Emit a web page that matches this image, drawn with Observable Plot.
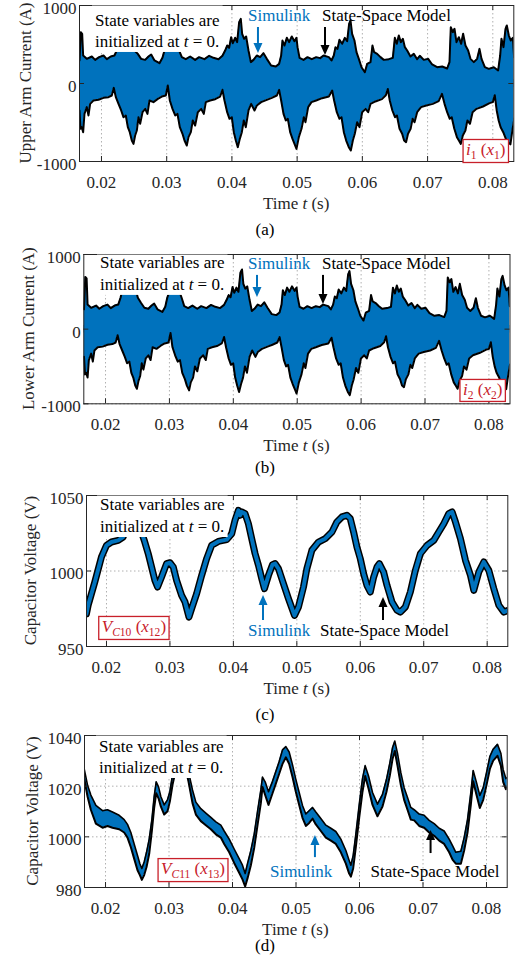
<!DOCTYPE html>
<html><head><meta charset="utf-8">
<script src="https://cdn.jsdelivr.net/npm/d3@7"></script>
<script src="https://cdn.jsdelivr.net/npm/@observablehq/plot@0.6"></script>
<style>
body{margin:0;background:#fff;}
#fig{position:relative;width:522px;height:965px;overflow:hidden;font-family:"Liberation Serif","Times New Roman",serif;}
.cap{position:absolute;transform:translateX(-50%);font-size:17px;line-height:20px;color:#000;white-space:nowrap;}
</style></head><body><div id="fig"></div>
<script>
// ---------- data ----------
const xTicks = [0.02, 0.03, 0.04, 0.05, 0.06, 0.07, 0.08];
const currentTicks = [-1000, 0, 1000];
const vc10Ticks = [950, 1000, 1050];
const vc11Ticks = [980, 1000, 1020, 1040];

// (a) upper arm current: upper / lower envelope [t (s), A]
const aUpper = [[0.01663,295],[0.01683,658],[0.01704,637],[0.01719,359],[0.01775,316],[0.01852,346],[0.01903,303],[0.01964,338],[0.02031,359],[0.02082,312],[0.02143,346],[0.02199,359],[0.02235,423],[0.02271,551],[0.02363,594],[0.02465,551],[0.02506,423],[0.02557,380],[0.02608,316],[0.0267,303],[0.02721,346],[0.02762,372],[0.02813,295],[0.02889,261],[0.02935,329],[0.02966,423],[0.03027,573],[0.03129,573],[0.03191,423],[0.03232,338],[0.03293,312],[0.0336,346],[0.03436,303],[0.03497,338],[0.03579,312],[0.03651,355],[0.03717,329],[0.03794,312],[0.03855,355],[0.03896,423],[0.03927,487],[0.03957,457],[0.03988,594],[0.04014,517],[0.04049,586],[0.0408,530],[0.04111,786],[0.04136,829],[0.04157,637],[0.04187,573],[0.04218,603],[0.04254,423],[0.0429,274],[0.04331,303],[0.04382,359],[0.04433,338],[0.04484,389],[0.04535,316],[0.04601,231],[0.04673,218],[0.04724,252],[0.04755,359],[0.04775,551],[0.04806,487],[0.04842,586],[0.04877,530],[0.04918,603],[0.04959,543],[0.0499,586],[0.05006,466],[0.05037,329],[0.05098,303],[0.05159,338],[0.05225,312],[0.05292,338],[0.05353,325],[0.05405,359],[0.05486,338],[0.05527,295],[0.05562,359],[0.05588,466],[0.05619,444],[0.05649,560],[0.0569,509],[0.05731,586],[0.05767,543],[0.05797,765],[0.05818,808],[0.05843,637],[0.05879,551],[0.0591,402],[0.05946,316],[0.05987,209],[0.06038,145],[0.06074,252],[0.06125,274],[0.06155,487],[0.06181,402],[0.06227,380],[0.06278,338],[0.06329,303],[0.06406,312],[0.06467,329],[0.06498,586],[0.06528,509],[0.06559,615],[0.0659,530],[0.06621,573],[0.06652,466],[0.06687,423],[0.06738,346],[0.06789,380],[0.0684,312],[0.06881,355],[0.06942,303],[0.07009,316],[0.0707,244],[0.07147,209],[0.07224,218],[0.073,192],[0.07336,274],[0.07356,722],[0.07387,658],[0.07413,701],[0.07443,530],[0.07479,594],[0.07515,509],[0.07545,637],[0.07581,487],[0.07622,423],[0.07658,316],[0.07709,274],[0.0776,316],[0.07796,444],[0.07827,316],[0.07878,209],[0.07939,188],[0.08016,209],[0.08082,167],[0.08113,359],[0.08133,573],[0.08164,466],[0.08195,701],[0.08215,744],[0.08246,615],[0.08276,551],[0.08307,586],[0.08327,338]];
const aLower = [[0.01663,-346],[0.01678,-581],[0.01698,-560],[0.01719,-624],[0.01739,-389],[0.01775,-303],[0.01801,-410],[0.01826,-261],[0.01877,-218],[0.01954,-209],[0.02031,-184],[0.02107,-175],[0.02158,-154],[0.02189,-56],[0.0222,-175],[0.02261,-261],[0.02302,-346],[0.02337,-432],[0.02373,-410],[0.02404,-560],[0.02434,-624],[0.02465,-731],[0.02491,-774],[0.02516,-667],[0.02542,-603],[0.02567,-432],[0.02593,-517],[0.02629,-368],[0.0267,-325],[0.02705,-389],[0.02736,-218],[0.02797,-239],[0.02864,-197],[0.02925,-167],[0.02986,-154],[0.03017,-26],[0.03048,-218],[0.03089,-325],[0.0313,-410],[0.03165,-389],[0.03201,-560],[0.03242,-645],[0.03273,-731],[0.03308,-795],[0.03334,-688],[0.0337,-624],[0.034,-474],[0.03436,-539],[0.03477,-368],[0.03528,-325],[0.03569,-389],[0.036,-239],[0.03666,-218],[0.03743,-201],[0.03819,-167],[0.03855,-81],[0.03886,-218],[0.03927,-368],[0.03963,-453],[0.03998,-432],[0.04029,-624],[0.0406,-731],[0.0409,-816],[0.04121,-710],[0.04152,-624],[0.04182,-474],[0.04213,-560],[0.04254,-346],[0.04295,-261],[0.04346,-346],[0.04382,-282],[0.04448,-239],[0.04535,-209],[0.04612,-184],[0.04688,-154],[0.04724,-81],[0.04755,-218],[0.04791,-389],[0.04826,-474],[0.04857,-453],[0.04893,-624],[0.04929,-710],[0.0497,-795],[0.0499,-838],[0.05026,-688],[0.05067,-581],[0.05102,-432],[0.05128,-496],[0.05169,-303],[0.0522,-239],[0.05291,-218],[0.05383,-188],[0.05486,-167],[0.05537,-90],[0.05567,-218],[0.05608,-368],[0.05649,-453],[0.0568,-432],[0.05716,-624],[0.05752,-731],[0.05792,-816],[0.05823,-859],[0.05854,-731],[0.05884,-645],[0.0592,-496],[0.05956,-560],[0.05997,-368],[0.06048,-325],[0.06089,-368],[0.06125,-261],[0.062,-230],[0.063,-200],[0.0636,-150],[0.0639,-70],[0.0642,-218],[0.0646,-346],[0.065,-432],[0.0653,-410],[0.0657,-581],[0.0661,-645],[0.0664,-731],[0.0667,-752],[0.067,-645],[0.0674,-581],[0.0677,-453],[0.068,-496],[0.0684,-368],[0.069,-303],[0.0698,-282],[0.0708,-261],[0.0717,-226],[0.0722,-132],[0.0726,-261],[0.073,-368],[0.0734,-453],[0.0737,-432],[0.0741,-581],[0.0745,-688],[0.0748,-731],[0.0751,-774],[0.0754,-667],[0.0758,-603],[0.0761,-474],[0.0765,-517],[0.0769,-368],[0.0775,-325],[0.0785,-295],[0.0795,-252],[0.08,-239],[0.0803,-150],[0.0806,-346],[0.0809,-474],[0.0812,-560],[0.0816,-624],[0.082,-710],[0.0824,-760],[0.0827,-780],[0.083,-600],[0.0833,-450]];

// (b) lower arm current: upper / lower envelope [t (s), A]
const bUpper = [[0.01663,265],[0.01683,700],[0.01704,680],[0.01719,329],[0.01775,286],[0.01852,316],[0.01903,273],[0.01964,308],[0.02031,329],[0.02082,282],[0.02143,316],[0.02199,329],[0.02235,420],[0.02271,551],[0.02363,594],[0.02465,551],[0.02506,420],[0.02557,350],[0.02608,286],[0.0267,273],[0.02721,316],[0.02762,342],[0.02813,265],[0.02889,231],[0.02935,299],[0.02966,420],[0.03027,573],[0.03129,573],[0.03191,420],[0.03232,308],[0.03293,282],[0.0336,316],[0.03436,273],[0.03497,308],[0.03579,282],[0.03651,325],[0.03717,299],[0.03794,282],[0.03855,325],[0.03896,393],[0.03927,457],[0.03957,427],[0.03988,564],[0.04014,487],[0.04049,556],[0.0408,500],[0.04111,756],[0.04136,800],[0.04157,607],[0.04187,543],[0.04218,573],[0.04254,393],[0.0429,244],[0.04331,273],[0.04382,329],[0.04433,308],[0.04484,359],[0.04535,286],[0.04601,201],[0.04673,188],[0.04724,222],[0.04755,329],[0.04775,521],[0.04806,457],[0.04842,556],[0.04877,500],[0.04918,573],[0.04959,513],[0.0499,556],[0.05006,436],[0.05037,299],[0.05098,273],[0.05159,308],[0.05225,282],[0.05292,308],[0.05353,295],[0.05405,329],[0.05486,308],[0.05527,265],[0.05562,329],[0.05588,436],[0.05619,414],[0.05649,530],[0.0569,479],[0.05731,556],[0.05767,513],[0.05797,735],[0.05818,778],[0.05843,607],[0.05879,521],[0.0591,372],[0.05946,286],[0.05987,179],[0.06038,115],[0.06074,222],[0.06125,244],[0.06155,457],[0.06181,372],[0.06227,350],[0.06278,308],[0.06329,273],[0.06406,282],[0.06467,299],[0.06498,556],[0.06528,479],[0.06559,585],[0.0659,500],[0.06621,543],[0.06652,436],[0.06687,393],[0.06738,316],[0.06789,350],[0.0684,282],[0.06881,325],[0.06942,273],[0.07009,286],[0.0707,214],[0.07147,179],[0.07224,188],[0.073,162],[0.07336,244],[0.07356,692],[0.07387,628],[0.07413,671],[0.07443,500],[0.07479,564],[0.07515,479],[0.07545,607],[0.07581,457],[0.07622,393],[0.07658,286],[0.07709,244],[0.0776,286],[0.07796,414],[0.07827,286],[0.07878,179],[0.07939,158],[0.08016,179],[0.08082,137],[0.08113,329],[0.08133,543],[0.08164,436],[0.08195,671],[0.08215,714],[0.08246,585],[0.08276,521],[0.08307,556],[0.08327,308]];
const bLower = [[0.01663,-371],[0.01678,-606],[0.01698,-585],[0.01719,-649],[0.01739,-414],[0.01775,-328],[0.01801,-435],[0.01826,-286],[0.01877,-243],[0.01954,-234],[0.02031,-209],[0.02107,-200],[0.02158,-179],[0.02189,-81],[0.0222,-200],[0.02261,-286],[0.02302,-371],[0.02337,-457],[0.02373,-435],[0.02404,-585],[0.02434,-649],[0.02465,-756],[0.02491,-799],[0.02516,-692],[0.02542,-628],[0.02567,-457],[0.02593,-542],[0.02629,-393],[0.0267,-350],[0.02705,-414],[0.02736,-243],[0.02797,-264],[0.02864,-222],[0.02925,-192],[0.02986,-179],[0.03017,-51],[0.03048,-243],[0.03089,-350],[0.0313,-435],[0.03165,-414],[0.03201,-585],[0.03242,-670],[0.03273,-756],[0.03308,-820],[0.03334,-713],[0.0337,-649],[0.034,-499],[0.03436,-564],[0.03477,-393],[0.03528,-350],[0.03569,-414],[0.036,-264],[0.03666,-243],[0.03743,-226],[0.03819,-192],[0.03855,-106],[0.03886,-243],[0.03927,-393],[0.03963,-478],[0.03998,-457],[0.04029,-649],[0.0406,-756],[0.0409,-841],[0.04121,-735],[0.04152,-649],[0.04182,-499],[0.04213,-585],[0.04254,-371],[0.04295,-286],[0.04346,-371],[0.04382,-307],[0.04448,-264],[0.04535,-234],[0.04612,-209],[0.04688,-179],[0.04724,-106],[0.04755,-243],[0.04791,-414],[0.04826,-499],[0.04857,-478],[0.04893,-649],[0.04929,-735],[0.0497,-820],[0.0499,-863],[0.05026,-713],[0.05067,-606],[0.05102,-457],[0.05128,-521],[0.05169,-328],[0.0522,-264],[0.05291,-243],[0.05383,-213],[0.05486,-192],[0.05537,-115],[0.05567,-243],[0.05608,-393],[0.05649,-478],[0.0568,-457],[0.05716,-649],[0.05752,-756],[0.05792,-841],[0.05823,-884],[0.05854,-756],[0.05884,-670],[0.0592,-521],[0.05956,-585],[0.05997,-393],[0.06048,-350],[0.06089,-393],[0.06125,-286],[0.062,-255],[0.063,-225],[0.0636,-175],[0.0639,-95],[0.0642,-243],[0.0646,-371],[0.065,-457],[0.0653,-435],[0.0657,-606],[0.0661,-670],[0.0664,-756],[0.0667,-777],[0.067,-670],[0.0674,-606],[0.0677,-478],[0.068,-521],[0.0684,-393],[0.069,-328],[0.0698,-307],[0.0708,-286],[0.0717,-251],[0.0722,-157],[0.0726,-286],[0.073,-393],[0.0734,-478],[0.0737,-457],[0.0741,-606],[0.0745,-713],[0.0748,-756],[0.0751,-799],[0.0754,-692],[0.0758,-628],[0.0761,-499],[0.0765,-542],[0.0769,-393],[0.0775,-350],[0.0785,-320],[0.0795,-277],[0.08,-264],[0.0803,-175],[0.0806,-371],[0.0809,-499],[0.0812,-585],[0.0816,-649],[0.082,-735],[0.0824,-785],[0.0827,-805],[0.083,-625],[0.0833,-475]];

// (c) capacitor voltage VC10 [t (s), V]
const cVolt = [[0.01684,971.7],[0.01711,977.3],[0.01816,992.7],[0.01921,1009.3],[0.02,1017.0],[0.02079,1019.2],[0.02184,1020.3],[0.02263,1022.5],[0.02316,1030],[0.02395,1034],[0.02474,1032],[0.02542,1027],[0.02595,1020.3],[0.02658,1011.5],[0.02711,1002.6],[0.02763,993.8],[0.02805,989.4],[0.02868,996.0],[0.02947,1004.9],[0.03,1005.5],[0.03053,1002.6],[0.03105,993.8],[0.03184,983.9],[0.03237,979.5],[0.033,969.5],[0.03342,975.1],[0.03421,985.0],[0.035,997.1],[0.03579,1008.2],[0.03658,1017.0],[0.03763,1019.6],[0.03895,1020.8],[0.03974,1024.7],[0.04026,1033.6],[0.04079,1040.2],[0.04105,1036.9],[0.04132,1039.1],[0.04184,1038.0],[0.04237,1031.3],[0.04289,1021.4],[0.04342,1011.5],[0.04395,1003.8],[0.04447,994.9],[0.04489,988.3],[0.04553,997.1],[0.04616,1004.2],[0.04658,1004.9],[0.04711,1001.5],[0.04789,991.6],[0.04868,981.7],[0.04963,970.6],[0.05026,976.2],[0.05105,989.4],[0.05158,1001.5],[0.05237,1013.7],[0.05342,1019.2],[0.05447,1021.4],[0.05553,1025.8],[0.05632,1032.5],[0.05711,1035.8],[0.05789,1036.9],[0.05842,1034.7],[0.05895,1025.8],[0.05947,1015.9],[0.06,1008.2],[0.06053,998.2],[0.06105,990.5],[0.06158,986.1],[0.06211,996.0],[0.06263,1002.6],[0.063,1004.9],[0.06368,999.3],[0.06421,990.5],[0.065,979.5],[0.06579,974.0],[0.06632,972.8],[0.06711,976.2],[0.06789,986.1],[0.06868,1000.4],[0.06947,1011.5],[0.07053,1017.0],[0.07158,1020.3],[0.07237,1025.8],[0.07316,1031.3],[0.07395,1038.0],[0.07447,1039.1],[0.075,1032.5],[0.07579,1021.4],[0.07658,1007.1],[0.07737,997.1],[0.07789,987.2],[0.07868,999.3],[0.07947,1006.0],[0.08026,1000.4],[0.08105,988.3],[0.08184,977.3],[0.08263,972.8],[0.08332,974.0]];

// (d) capacitor voltage VC11 band [t (s), lower V, upper V]
const dBand = [[0.01664,1023.0,1026.8],[0.01717,1015.9,1020.4],[0.01769,1010.7,1016.5],[0.01848,1005.2,1012.4],[0.01953,1003.6,1010.3],[0.02031,1004.3,1010.7],[0.0211,1003.6,1009.8],[0.02215,1003.0,1008.5],[0.02294,1001.7,1006.8],[0.02346,999.7,1004.9],[0.02399,995.9,1001.7],[0.02451,991.4,997.2],[0.02504,986.8,992.6],[0.02541,984.9,989.4],[0.02572,983.0,987.5],[0.02609,984.9,990.1],[0.02646,988.1,993.9],[0.02688,993.3,999.1],[0.0273,1002.3,1006.8],[0.02766,1011.4,1015.9],[0.02798,1017.2,1021.7],[0.02835,1015.2,1019.7],[0.02871,1012.0,1015.9],[0.02924,1008.8,1012.6],[0.02976,1010.1,1014.6],[0.03013,1013.9,1017.8],[0.03055,1020.5,1024.5],[0.03134,1029.5,1033.5],[0.03239,1029.5,1033.5],[0.03307,1021.8,1025.6],[0.0337,1013.3,1018.5],[0.03423,1008.8,1013.7],[0.03501,1006.2,1011.1],[0.0358,1004.6,1009.4],[0.03659,1003.0,1007.7],[0.03738,1001.0,1005.9],[0.03816,999.7,1004.6],[0.03869,997.2,1002.3],[0.03948,993.9,999.1],[0.04026,989.7,995.2],[0.04105,985.8,991.4],[0.04157,983.2,988.8],[0.04199,980.4,985.5],[0.04236,983.6,989.4],[0.04289,988.8,994.6],[0.04341,995.6,1001.0],[0.04394,1004.6,1010.1],[0.04446,1013.3,1018.5],[0.04472,1019.7,1023.6],[0.04514,1016.5,1021.7],[0.04567,1012.6,1017.8],[0.0463,1017.2,1021.9],[0.04682,1021.0,1025.8],[0.04735,1024.9,1029.7],[0.04787,1028.8,1034.3],[0.0484,1031.4,1035.6],[0.04892,1028.8,1033.5],[0.04945,1023.6,1028.4],[0.04997,1017.8,1022.7],[0.0505,1012.6,1017.5],[0.05102,1007.5,1012.4],[0.05155,1004.3,1009.0],[0.05207,1005.5,1010.3],[0.0526,1007.2,1011.6],[0.05312,1004.9,1009.8],[0.05391,1002.3,1007.2],[0.0547,999.7,1004.6],[0.05549,998.5,1003.4],[0.05627,997.2,1002.1],[0.05706,993.9,999.1],[0.05785,989.4,994.6],[0.05837,985.5,990.7],[0.05864,984.3,988.8],[0.059,987.5,992.6],[0.05942,995.9,1001.0],[0.05995,1007.5,1012.6],[0.06047,1017.8,1023.0],[0.06089,1024.0,1028.1],[0.06142,1019.1,1024.0],[0.06205,1012.6,1017.5],[0.06283,1008.1,1012.9],[0.06362,1012.0,1016.8],[0.06425,1017.8,1022.7],[0.06478,1024.3,1029.2],[0.0652,1030.7,1035.2],[0.06556,1033.9,1037.8],[0.06598,1028.1,1033.0],[0.06651,1020.4,1025.3],[0.06703,1014.6,1019.4],[0.06756,1010.7,1015.5],[0.06808,1006.8,1011.6],[0.06861,1006.5,1010.7],[0.0694,1004.3,1009.0],[0.07018,1003.6,1008.5],[0.07097,1001.7,1006.5],[0.07176,1000.4,1005.2],[0.07255,998.5,1003.4],[0.07333,997.2,1002.3],[0.07412,993.9,999.1],[0.07465,991.0,996.5],[0.07517,989.4,993.9],[0.07596,989.4,994.3],[0.07648,994.6,999.7],[0.07701,1001.7,1006.8],[0.07753,1012.6,1017.5],[0.0779,1021.9,1026.2],[0.07843,1016.5,1021.4],[0.07895,1011.4,1016.3],[0.07948,1014.6,1019.4],[0.08,1020.4,1025.3],[0.08053,1026.8,1031.7],[0.08105,1030.1,1034.6],[0.08173,1032.0,1036.5],[0.08226,1028.1,1033.0],[0.08262,1021.7,1026.6],[0.08305,1018.8,1023.0],[0.0833,1019.5,1023.5]];

// ---------- styling / layout ----------
const BLUE = "#0072BD", RED = "#C8202A", INK = "#262626", GRID = "#b0b0b0";
const FONT = "'Liberation Serif','Times New Roman',serif";
const FS = 17, MT = 20, MB = 62;

const panels = [
  {frame:[79,513.3,5,161], xdom:[0.01663,0.08322], ydom:[-1000,1000], yticks:currentTicks, ylabel:"Upper Arm Current (A)", ylabX:25, caption:"(a)", capY:230,
   kind:"current", up:aUpper, lo:aLower,
   state:[0.01908,731,462], sim:[0.04254,795], simArrow:[0.04407,718,385], ssm:[0.05389,795], ssmArrow:[0.05435,718,359],
   tag:[0.0790,-923], tagSegs:[["i","i"],["1","sub"],[" (",""],["x","i"],["1","sub"],[")",""]]},
  {frame:[83.3,509.5,254,403.3], xdom:[0.0166,0.0833], ydom:[-1000,1000], yticks:currentTicks, ylabel:"Lower Arm Current (A)", ylabX:28, caption:"(b)", capY:468,
   kind:"current", up:bUpper, lo:bLower,
   state:[0.01921,813,519], sim:[0.04237,800], simArrow:[0.04378,720,425], ssm:[0.05395,800], ssmArrow:[0.05411,720,331],
   tag:[0.0791,-888], tagSegs:[["i","i"],["2","sub"],[" (",""],["x","i"],["2","sub"],[")",""]]},
  {frame:[86,507.3,495,646], xdom:[0.01685,0.08325], ydom:[950,1050], yticks:vc10Ticks, ylabel:"Capacitor Voltage (V)", ylabX:30, caption:"(c)", capY:715,
   kind:"line", data:cVolt,
   state:[0.01906,1040.1,1025.5], sim:[0.04238,956.6], simArrow:[0.04475,967.2,983.8], ssm:[0.05374,956.6], ssmArrow:[0.06366,967.2,982.5],
   tag:[0.0244,959.3], tagSegs:[["V","i"],["C","isub"],["10","sub"],[" (",""],["x","i"],["12","sub"],[")",""]]},
  {frame:[84,506.7,735,887], xdom:[0.01669,0.08326], ydom:[980,1040], yticks:vc11Ticks, ylabel:"Capacitor Voltage (V)", ylabX:32, caption:"(d)", capY:946,
   kind:"band", data:dBand,
   state:[0.01905,1033.3,1025.0], sim:[0.04598,984.0], simArrow:[0.05306,991.8,1000.5], ssm:[0.06182,984.0], ssmArrow:[0.07127,993.4,1002.5],
   tag:[0.03386,985.1], tagSegs:[["V","i"],["C","isub"],["11","sub"],[" (",""],["x","i"],["13","sub"],[")",""]]}
];

function signalMarks(p) {
  if (p.kind === "current") {
    return [
      Plot.areaY(p.up, {x: d => d[0], y1: -50, y2: d => d[1], fill: BLUE, clip: true}),
      Plot.areaY(p.lo, {x: d => d[0], y1: 50, y2: d => d[1], fill: BLUE, clip: true}),
      Plot.line(p.up, {x: d => d[0], y: d => d[1], stroke: "#000", strokeWidth: 2, clip: true}),
      Plot.line(p.lo, {x: d => d[0], y: d => d[1], stroke: "#000", strokeWidth: 2, clip: true})
    ];
  }
  if (p.kind === "line") {
    return [
      Plot.line(p.data, {x: d => d[0], y: d => d[1], stroke: "#000", strokeWidth: 7, clip: true}),
      Plot.line(p.data, {x: d => d[0], y: d => d[1], stroke: BLUE, strokeWidth: 4, clip: true})
    ];
  }
  return [
    Plot.areaY(p.data, {x: d => d[0], y1: d => d[1], y2: d => d[2], fill: BLUE, clip: true}),
    Plot.line(p.data, {x: d => d[0], y: d => d[1], stroke: "#000", strokeWidth: 2, clip: true}),
    Plot.line(p.data, {x: d => d[0], y: d => d[2], stroke: "#000", strokeWidth: 1.6, clip: true})
  ];
}

function rich(sel, segs, size = FS) {
  let shift = 0;
  for (const [s, st] of segs) {
    const ts = sel.append("tspan").text(s);
    const want = st.includes("sub") ? 4 : 0;
    if (want !== shift) { ts.attr("dy", want - shift); shift = want; }
    if (st.startsWith("i")) ts.attr("font-style", "italic");
    if (st.includes("sub")) ts.attr("font-size", size * 0.68);
  }
}

function arrow(g, x, y0, y1, color) {
  const dir = Math.sign(y1 - y0), hl = 10, hw = 4.5;
  g.append("line").attr("x1", x).attr("x2", x).attr("y1", y0).attr("y2", y1 - dir * hl)
    .attr("stroke", color).attr("stroke-width", 2);
  g.append("path").attr("d", `M${x},${y1}L${x - hw},${y1 - dir * hl}L${x + hw},${y1 - dir * hl}Z`).attr("fill", color);
}

const fig = document.getElementById("fig");
for (const p of panels) {
  const [fl, fr, ft, fb] = p.frame;
  const fw = fr - fl, fh = fb - ft;
  const svgEl = Plot.plot({
    width: 522, height: fh + MT + MB,
    marginLeft: fl, marginRight: 522 - fr, marginTop: MT, marginBottom: MB,
    x: {domain: p.xdom}, y: {domain: p.ydom},
    style: {fontFamily: FONT, fontSize: FS + "px", color: INK, background: "transparent", overflow: "visible"},
    marks: [
      Plot.gridX(xTicks, {stroke: GRID, strokeOpacity: 1, strokeDasharray: "1.5,2.5"}),
      Plot.gridY(p.yticks, {stroke: GRID, strokeOpacity: 1, strokeDasharray: "1.5,2.5"}),
      ...signalMarks(p),
      Plot.gridX(xTicks, {stroke: INK, strokeOpacity: 1, insetTop: fh - 5}),
      Plot.gridX(xTicks, {stroke: INK, strokeOpacity: 1, insetBottom: fh - 5}),
      Plot.gridY(p.yticks, {stroke: INK, strokeOpacity: 1, insetRight: fw - 5}),
      Plot.gridY(p.yticks, {stroke: INK, strokeOpacity: 1, insetLeft: fw - 5}),
      Plot.axisX(xTicks, {tickSize: 0, tickPadding: 14, tickFormat: d => d.toFixed(2), label: null, fontFamily: FONT}),
      Plot.axisY(p.yticks, {tickSize: 0, tickPadding: 3, dy: 3, tickFormat: d => String(d), label: null, fontFamily: FONT}),
      Plot.frame({stroke: INK, strokeWidth: 1})
    ]
  });
  svgEl.style.position = "absolute";
  svgEl.style.left = "0px";
  svgEl.style.top = (ft - MT) + "px";
  fig.appendChild(svgEl);

  const sx = svgEl.scale("x"), sy = svgEl.scale("y");
  const X = v => sx.apply(v), Y = v => sy.apply(v);
  const svg = d3.select(svgEl);
  const g = svg.append("g").attr("font-family", FONT).attr("font-size", FS).attr("fill", "#000").attr("text-anchor", "start");
  const ftop = MT, fbot = MT + fh;

  // axis titles
  g.append("text").attr("transform", `translate(${p.ylabX + 5.8},${(ftop + fbot) / 2}) rotate(-90)`)
    .attr("text-anchor", "middle").attr("fill", INK).text(p.ylabel);
  rich(g.append("text").attr("x", (fl + fr) / 2).attr("y", fbot + 47.5).attr("text-anchor", "middle").attr("fill", INK),
    [["Time ", ""], ["t", "i"], [" (s)", ""]]);

  // initial-state note on white box
  const sg = g.append("g");
  const rect = sg.append("rect").attr("fill", "#fff");
  const t1 = sg.append("text").attr("x", X(p.state[0])).attr("y", Y(p.state[1])).text("State variables are");
  const t2 = sg.append("text").attr("x", X(p.state[0])).attr("y", Y(p.state[2]));
  rich(t2, [["initialized at ", ""], ["t", "i"], [" = 0.", ""]]);
  const b1 = t1.node().getBBox(), b2 = t2.node().getBBox();
  const x0 = Math.min(b1.x, b2.x) - 3, x1 = Math.max(b1.x + b1.width, b2.x + b2.width) + 3;
  const y0 = ftop + 0.6, y1 = b2.y + b2.height + 1;
  rect.attr("x", x0).attr("y", y0).attr("width", x1 - x0).attr("height", y1 - y0);

  // series labels and arrows
  g.append("text").attr("x", X(p.sim[0])).attr("y", Y(p.sim[1])).attr("fill", BLUE).text("Simulink");
  arrow(g, X(p.simArrow[0]), Y(p.simArrow[1]), Y(p.simArrow[2]), BLUE);
  g.append("text").attr("x", X(p.ssm[0])).attr("y", Y(p.ssm[1])).attr("fill", "#000").text("State-Space Model");
  arrow(g, X(p.ssmArrow[0]), Y(p.ssmArrow[1]), Y(p.ssmArrow[2]), "#000");

  // state tag in red box
  const tg = g.append("g");
  const tr = tg.append("rect").attr("fill", "#fff").attr("stroke", RED).attr("stroke-width", 1.3);
  const tt = tg.append("text").attr("x", X(p.tag[0])).attr("y", Y(p.tag[1])).attr("text-anchor", "middle").attr("fill", RED);
  rich(tt, p.tagSegs);
  const bb = tt.node().getBBox();
  tr.attr("x", bb.x - 3).attr("y", bb.y - 0.5).attr("width", bb.width + 6).attr("height", bb.height + 1);

  const cap = document.createElement("div");
  cap.className = "cap";
  cap.style.left = "265px";
  cap.style.top = (p.capY - 10) + "px";
  cap.textContent = p.caption;
  fig.appendChild(cap);
}
</script>
</body></html>
